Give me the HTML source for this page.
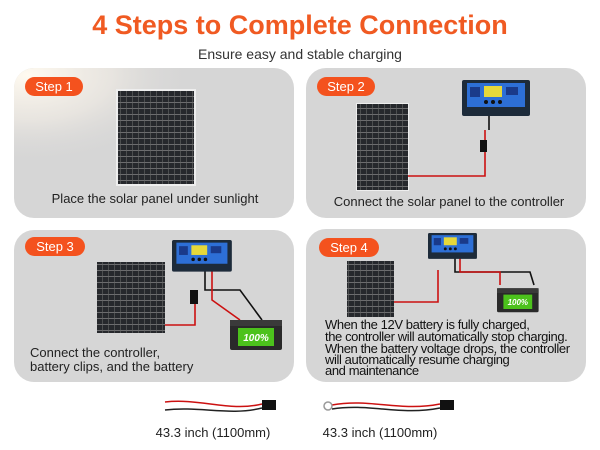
<!DOCTYPE html>
<html><head><meta charset="utf-8"><style>
html,body{margin:0;padding:0;background:#fff;}
svg{display:block;}
text{font-family:"Liberation Sans",sans-serif;}
</style></head><body>
<svg width="600" height="450" viewBox="0 0 600 450" xmlns="http://www.w3.org/2000/svg">
<defs>
<pattern id="cells" width="6" height="6" patternUnits="userSpaceOnUse">
<rect width="6" height="6" fill="#26282c"/><rect width="6" height="0.7" fill="#8a8a8a"/><rect width="0.6" height="6" fill="#666"/>
</pattern>
<radialGradient id="sun" cx="0.05" cy="0.05" r="0.6">
<stop offset="0" stop-color="#fffaf0"/><stop offset="0.5" stop-color="#ece8e2" stop-opacity="0.8"/><stop offset="1" stop-color="#d6d6d6" stop-opacity="0"/>
</radialGradient>
<g id="ctrl">
<rect x="0" y="0" width="68" height="36" rx="2" fill="#1d2b3a"/>
<rect x="5" y="3" width="58" height="24" fill="#2d6fd6"/>
<rect x="22" y="6" width="18" height="11" fill="#e6d83a"/>
<rect x="8" y="7" width="10" height="10" fill="#1a3a8a"/>
<rect x="44" y="7" width="12" height="8" fill="#1a3a8a"/>
<circle cx="24" cy="22" r="2" fill="#111"/><circle cx="31" cy="22" r="2" fill="#111"/><circle cx="38" cy="22" r="2" fill="#111"/>
</g>
<g id="batt">
<rect x="0" y="4" width="52" height="30" rx="2" fill="#2a2a2a"/>
<rect x="0" y="4" width="52" height="6" fill="#3a3a3a"/>
<rect x="8" y="12" width="36" height="18" fill="#4cc21c"/>
<text x="26" y="25" font-size="10" font-weight="bold" fill="#fff" text-anchor="middle" font-style="italic">100%</text>
</g>
</defs>
<text x="300" y="34" font-size="27" font-weight="bold" fill="#f05a22" text-anchor="middle">4 Steps to Complete Connection</text>
<text x="300" y="59" font-size="14" fill="#333" text-anchor="middle">Ensure easy and stable charging</text>

<rect x="14" y="68" width="280" height="150" rx="20" fill="#d6d6d6"/>
<rect x="14" y="68" width="280" height="150" rx="20" fill="url(#sun)"/>
<rect x="306" y="68" width="280" height="150" rx="20" fill="#d6d6d6"/>
<rect x="14" y="230" width="280" height="152" rx="20" fill="#d6d6d6"/>
<rect x="306" y="229" width="280" height="153" rx="20" fill="#d6d6d6"/>

<rect x="25" y="77" width="58" height="19" rx="9.5" fill="#f4521e"/>
<text x="54" y="91" font-size="13" fill="#fff" text-anchor="middle">Step 1</text>
<rect x="317" y="77" width="58" height="19" rx="9.5" fill="#f4521e"/>
<text x="346" y="91" font-size="13" fill="#fff" text-anchor="middle">Step 2</text>
<rect x="25" y="237" width="60" height="19" rx="9.5" fill="#f4521e"/>
<text x="55" y="251" font-size="13" fill="#fff" text-anchor="middle">Step 3</text>
<rect x="319" y="238" width="60" height="19" rx="9.5" fill="#f4521e"/>
<text x="349" y="252" font-size="13" fill="#fff" text-anchor="middle">Step 4</text>

<!-- card1 -->
<rect x="116" y="89" width="80" height="97" fill="#eee"/>
<rect x="118" y="91" width="76" height="93" fill="url(#cells)"/>
<text x="155" y="203" font-size="13" fill="#222" text-anchor="middle">Place the solar panel under sunlight</text>

<!-- card2 -->
<rect x="356" y="103" width="53" height="88" fill="#eee"/>
<rect x="357" y="104" width="51" height="86" fill="url(#cells)"/>
<path d="M408 176 H485 V130" stroke="#c11" stroke-width="1.6" fill="none"/>
<path d="M489 130 V115" stroke="#111" stroke-width="1.6" fill="none"/>
<rect x="480" y="140" width="7" height="12" fill="#111"/>
<use href="#ctrl" x="462" y="80"/>
<text x="449" y="206" font-size="13" fill="#222" text-anchor="middle">Connect the solar panel to the controller</text>

<!-- card3 -->
<rect x="97" y="262" width="68" height="71" fill="url(#cells)"/>
<path d="M165 325 H195 V290" stroke="#c11" stroke-width="1.6" fill="none"/>
<path d="M205 268 V290 H240 L262 320" stroke="#111" stroke-width="1.6" fill="none"/>
<path d="M212 268 V300 L240 320" stroke="#c11" stroke-width="1.6" fill="none"/>
<rect x="190" y="290" width="8" height="14" fill="#111"/>
<g transform="translate(172,240) scale(0.88)"><use href="#ctrl"/></g>
<use href="#batt" x="230" y="316"/>
<text x="30" y="357" font-size="13" fill="#222">Connect the controller,</text>
<text x="30" y="371" font-size="13" fill="#222">battery clips, and the battery</text>

<!-- card4 -->
<rect x="347" y="261" width="47" height="56" fill="url(#cells)"/>
<path d="M394 302 H438 V270" stroke="#c11" stroke-width="1.6" fill="none"/>
<path d="M455 258 V272 H530 L534 285" stroke="#111" stroke-width="1.6" fill="none"/>
<path d="M460 258 V272 H500 V285" stroke="#c11" stroke-width="1.6" fill="none"/>
<g transform="translate(428,233) scale(0.72)"><use href="#ctrl"/></g>
<g transform="translate(497,285) scale(0.8)"><use href="#batt"/></g>
<text font-size="13" fill="#111" letter-spacing="-0.4">
<tspan x="325" y="329">When the 12V battery is fully charged,</tspan>
<tspan x="325" y="341">the controller will automatically stop charging.</tspan>
<tspan x="325" y="353">When the battery voltage drops, the controller</tspan>
<tspan x="325" y="364">will automatically resume charging</tspan>
<tspan x="325" y="375">and maintenance</tspan>
</text>

<!-- bottom cables -->
<path d="M165 402 C200 398 230 412 262 404" stroke="#c11" stroke-width="1.5" fill="none"/>
<path d="M165 410 C200 406 230 416 262 408" stroke="#222" stroke-width="1.5" fill="none"/>
<rect x="262" y="400" width="14" height="10" fill="#111"/>
<path d="M332 405 C370 398 400 412 440 404" stroke="#c11" stroke-width="1.5" fill="none"/>
<path d="M332 409 C370 403 400 416 440 408" stroke="#222" stroke-width="1.5" fill="none"/>
<circle cx="328" cy="406" r="4" fill="none" stroke="#999" stroke-width="1.5"/>
<rect x="440" y="400" width="14" height="10" fill="#111"/>
<text x="213" y="437" font-size="13" fill="#222" text-anchor="middle">43.3 inch (1100mm)</text>
<text x="380" y="437" font-size="13" fill="#222" text-anchor="middle">43.3 inch (1100mm)</text>
</svg>
</body></html>
